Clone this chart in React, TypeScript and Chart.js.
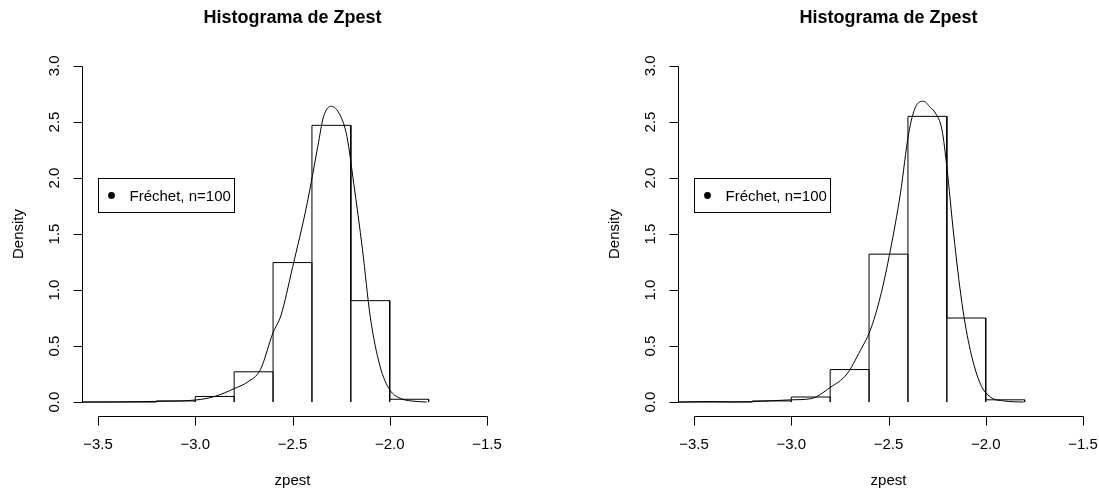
import React, { useEffect, useRef } from "react";
import { Chart, registerables } from "chart.js";

Chart.register(...registerables);

// ---- data ----
const xTicks = [-3.5, -3.0, -2.5, -2.0, -1.5];
const xTickLabels = ["\u22123.5", "\u22123.0", "\u22122.5", "\u22122.0", "\u22121.5"];
const yTicks = [0, 0.5, 1.0, 1.5, 2.0, 2.5, 3.0];
const yTickLabels = ["0.0", "0.5", "1.0", "1.5", "2.0", "2.5", "3.0"];

const breaks = [-3.6, -3.4, -3.2, -3.0, -2.8, -2.6, -2.4, -2.2, -2.0, -1.8];
const leftHeights = [0, 0, 0.01, 0.05, 0.27, 1.245, 2.47, 0.905, 0.025];
const rightHeights = [0, 0, 0.01, 0.045, 0.29, 1.32, 2.55, 0.75, 0.02];

const leftDensX = [-3.58, -3.4, -3.2, -3.0, -2.9, -2.8, -2.73, -2.665, -2.6, -2.56, -2.5, -2.425, -2.37, -2.34, -2.3, -2.255, -2.22, -2.185, -2.14, -2.1, -2.05, -2.0, -1.945, -1.89, -1.81];
const leftDensY = [0.0, 0.002, 0.006, 0.018, 0.05, 0.12, 0.18, 0.29, 0.62, 0.77, 1.2, 1.77, 2.28, 2.55, 2.64, 2.56, 2.37, 1.95, 1.36, 0.76, 0.32, 0.11, 0.033, 0.01, 0.0];

const rightDensX = [-3.58, -3.42, -3.3, -3.195, -3.0, -2.9, -2.8, -2.714, -2.645, -2.594, -2.542, -2.491, -2.439, -2.396, -2.362, -2.32, -2.285, -2.259, -2.225, -2.2, -2.165, -2.122, -2.079, -2.027, -1.976, -1.907, -1.805];
const rightDensY = [0.0, 0.005, 0.002, 0.004, 0.02, 0.03, 0.13, 0.25, 0.46, 0.64, 0.94, 1.35, 1.86, 2.4, 2.63, 2.685, 2.63, 2.58, 2.43, 2.1, 1.5, 0.88, 0.46, 0.16, 0.045, 0.01, 0.0];

const titleText = "Histograma de Zpest";
const xLabel = "zpest";
const yLabel = "Density";
const legendText = "Fr\u00e9chet, n=100";
const legendAnchor = { x: -3.5, y: 2.0 };

const FONT = '"Liberation Sans", Arial, Helvetica, sans-serif';
const W = 596;
const H = 493;

const rPlotPlugin = {
  id: "rPlot",
  afterDraw(chart: any) {
    const { ctx, chartArea } = chart;
    const xs = chart.scales.x;
    const ys = chart.scales.y;
    ctx.save();
    ctx.strokeStyle = "#000";
    ctx.fillStyle = "#000";
    ctx.lineWidth = 1;

    const ay = Math.round(chartArea.bottom) + 0.5;
    const ax = Math.floor(chartArea.left) + 0.5;

    // x axis
    ctx.beginPath();
    const x0 = Math.round(xs.getPixelForValue(xTicks[0])) + 0.5;
    const x1 = Math.round(xs.getPixelForValue(xTicks[xTicks.length - 1])) + 0.5;
    ctx.moveTo(x0, ay);
    ctx.lineTo(x1, ay);
    xTicks.forEach((v) => {
      const p = Math.round(xs.getPixelForValue(v)) + 0.5;
      ctx.moveTo(p, ay);
      ctx.lineTo(p, ay + 9);
    });
    // y axis
    const y0 = Math.round(ys.getPixelForValue(yTicks[0])) + 0.5;
    const y1 = Math.round(ys.getPixelForValue(yTicks[yTicks.length - 1])) + 0.5;
    ctx.moveTo(ax, y0);
    ctx.lineTo(ax, y1);
    yTicks.forEach((v) => {
      const p = Math.round(ys.getPixelForValue(v)) + 0.5;
      ctx.moveTo(ax, p);
      ctx.lineTo(ax - 9, p);
    });
    ctx.stroke();

    // tick labels
    ctx.font = `15px ${FONT}`;
    ctx.textAlign = "center";
    ctx.textBaseline = "alphabetic";
    xTicks.forEach((v, i) => {
      ctx.fillText(xTickLabels[i], xs.getPixelForValue(v), chartArea.bottom + 33.8);
    });
    yTicks.forEach((v, i) => {
      ctx.save();
      ctx.translate(chartArea.left - 23.5, ys.getPixelForValue(v));
      ctx.rotate(-Math.PI / 2);
      ctx.fillText(yTickLabels[i], 0, 0);
      ctx.restore();
    });

    const cx = (chartArea.left + chartArea.right) / 2;
    const cy = (chartArea.top + chartArea.bottom) / 2;

    // axis titles
    ctx.fillText(xLabel, cx, chartArea.bottom + 69.8);
    ctx.save();
    ctx.translate(chartArea.left - 60, cy);
    ctx.rotate(-Math.PI / 2);
    ctx.fillText(yLabel, 0, 0);
    ctx.restore();

    // main title
    ctx.font = `bold 18px ${FONT}`;
    ctx.fillText(titleText, cx, chartArea.top - 29.3);

    // legend
    const lx = Math.round(xs.getPixelForValue(legendAnchor.x));
    const ly = Math.round(ys.getPixelForValue(legendAnchor.y));
    ctx.strokeRect(lx + 0.5, ly + 0.5, 136, 34);
    ctx.beginPath();
    ctx.arc(lx + 13.5, ly + 17.5, 3.4, 0, Math.PI * 2);
    ctx.fill();
    ctx.font = `15px ${FONT}`;
    ctx.textAlign = "left";
    ctx.fillText(legendText, lx + 31.5, ly + 22.8);

    ctx.restore();
  },
};

function buildSteps(br: number[], h: number[]) {
  const pts: { x: number; y: number }[] = [];
  for (let i = 0; i < h.length; i++) {
    pts.push({ x: br[i], y: 0 });
    pts.push({ x: br[i], y: h[i] });
    pts.push({ x: br[i + 1], y: h[i] });
    pts.push({ x: br[i + 1], y: 0 });
  }
  return pts;
}

function Panel(props: { heights: number[]; dx: number[]; dy: number[]; left: number }) {
  const ref = useRef<HTMLCanvasElement | null>(null);
  useEffect(() => {
    if (!ref.current) return;
    const chart = new Chart(ref.current, {
      type: "line",
      data: {
        datasets: [
          {
            data: buildSteps(breaks, props.heights),
            borderColor: "#000",
            borderWidth: 1,
            pointRadius: 0,
            tension: 0,
            fill: false,
          },
          {
            data: props.dx.map((x, i) => ({ x, y: props.dy[i] })),
            borderColor: "#000",
            borderWidth: 1,
            pointRadius: 0,
            cubicInterpolationMode: "monotone",
            fill: false,
          },
        ],
      },
      options: {
        responsive: false,
        animation: false,
        events: [],
        layout: { padding: { left: 82.5, right: W - 502.5, top: 52.5, bottom: H - 415.5 } },
        scales: {
          x: { type: "linear", min: -3.58, max: -1.42, display: false },
          y: { type: "linear", min: -0.12, max: 3.12, display: false },
        },
        plugins: { legend: { display: false }, tooltip: { enabled: false }, title: { display: false } },
      },
      plugins: [rPlotPlugin],
    } as any);
    return () => chart.destroy();
  }, []);
  return (
    <canvas
      ref={ref}
      width={W}
      height={H}
      style={{ position: "absolute", top: 0, left: props.left, width: W, height: H }}
    />
  );
}

export default function App() {
  return (
    <div
      style={{
        position: "fixed",
        top: 0,
        left: 0,
        width: 1099,
        height: 493,
        overflow: "hidden",
        background: "#fff",
      }}
    >
      <Panel heights={leftHeights} dx={leftDensX} dy={leftDensY} left={0} />
      <Panel heights={rightHeights} dx={rightDensX} dy={rightDensY} left={596} />
    </div>
  );
}
